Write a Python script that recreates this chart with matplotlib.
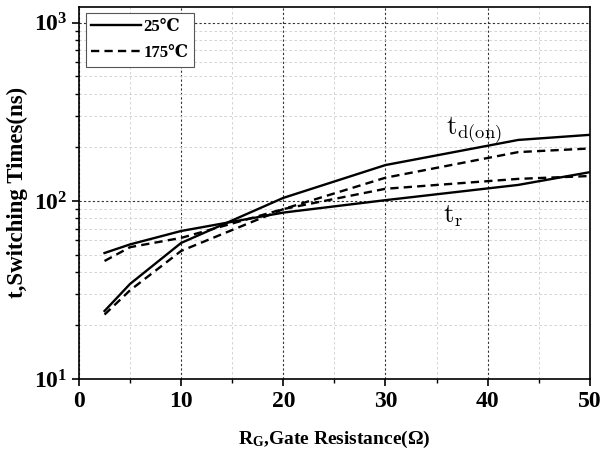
import numpy as np
import matplotlib
matplotlib.use('Agg')
import matplotlib.pyplot as plt
from matplotlib.ticker import MultipleLocator, LogLocator, FixedLocator

plt.rcParams['font.family'] = ['Liberation Serif', 'DejaVu Serif']
plt.rcParams['font.weight'] = 'bold'
plt.rcParams['mathtext.fontset'] = 'custom'
plt.rcParams['mathtext.rm'] = 'Liberation Serif:bold'
plt.rcParams['mathtext.it'] = 'Liberation Serif:bold'
plt.rcParams['mathtext.bf'] = 'Liberation Serif:bold'
plt.rcParams['mathtext.default'] = 'rm'

# Gate resistance (ohm)
rg = [2.5, 5, 10, 20, 30, 43, 50]

# td(on) in ns
td_25 = [24.1, 34.2, 58.1, 104, 159, 220, 235]
td_175 = [23.0, 31.5, 52.4, 90, 135, 188, 197]

# tr in ns
tr_25 = [51, 57, 67.8, 86, 101, 123, 145]
tr_175 = [46, 55, 62, 90, 117, 133, 138]

fig = plt.figure(figsize=(6.03, 4.55), dpi=100)
ax = fig.add_axes([0.131, 0.167, 0.847, 0.818])

dash = (0, (3.5, 2.2))
ax.plot(rg, td_25, color='black', lw=1.7, label='25\u2103')
ax.plot(rg, td_175, color='black', lw=1.7, linestyle=dash, label='175\u2103')
ax.plot(rg, tr_25, color='black', lw=1.7)
ax.plot(rg, tr_175, color='black', lw=1.7, linestyle=dash)

ax.set_yscale('log')
ax.set_xlim(0, 50)
ax.set_ylim(10, 1230)

ax.xaxis.set_major_locator(MultipleLocator(10))
ax.xaxis.set_minor_locator(MultipleLocator(5))
ax.yaxis.set_major_locator(FixedLocator([10, 100, 1000]))
ax.yaxis.set_minor_locator(LogLocator(base=10, subs=np.arange(2, 10)))

ax.grid(True, which='major', color='#333333', linestyle=(0, (2, 2)), lw=0.8)
ax.grid(True, which='minor', color='#cccccc', linestyle=(0, (3, 3)), lw=0.6)
ax.set_axisbelow(True)

ax.tick_params(which='major', direction='out', length=5, width=1.2, labelsize=17)
ax.tick_params(which='minor', direction='out', length=3, width=1.0)
ax.yaxis.set_minor_formatter(plt.NullFormatter())
for s in ax.spines.values():
    s.set_linewidth(1.2)

ax.set_xlabel('R$_\\mathregular{G}$,Gate Resistance(\u03a9)', fontsize=14, fontweight='bold', labelpad=12)
ax.set_ylabel('t,Switching Times(ns)', fontsize=16.5, fontweight='bold', labelpad=4)

ax.text(35.9, 203, r'$\mathrm{t_{d(on)}}$', fontsize=19, math_fontfamily='cm',
        fontweight='normal', ha='left', va='bottom')
ax.text(35.6, 97, r'$\mathrm{t_r}$', fontsize=19, math_fontfamily='cm',
        fontweight='normal', ha='left', va='top')

leg = ax.legend(loc='upper left', fontsize=12, handlelength=3.0, handletextpad=0.1,
                fancybox=False, framealpha=1, edgecolor='#555555',
                borderaxespad=0.4, labelspacing=0.6, borderpad=0.35)
leg.get_frame().set_linewidth(0.8)

fig.savefig('out.png', dpi=100)
